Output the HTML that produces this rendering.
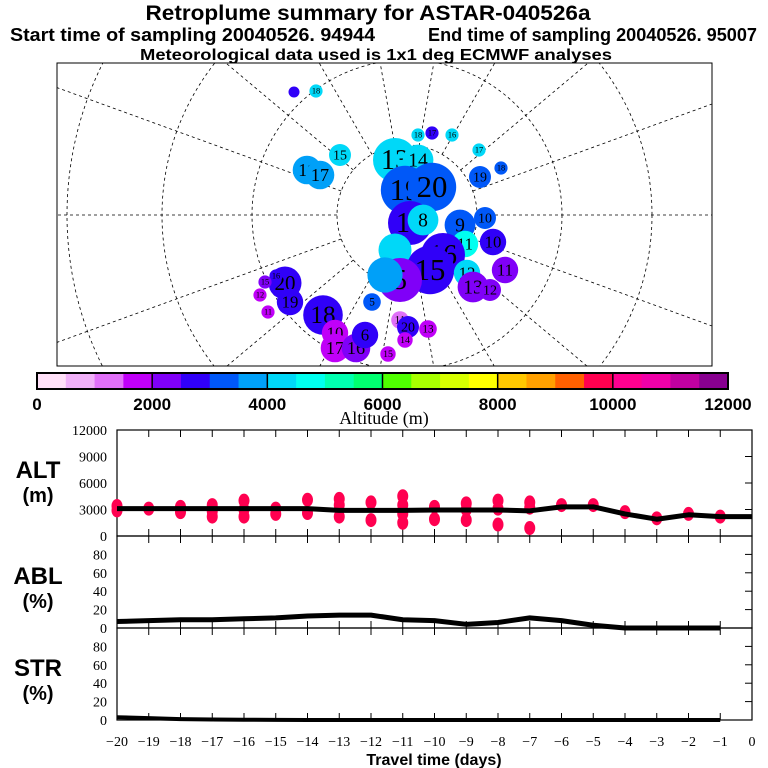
<!DOCTYPE html>
<html><head><meta charset="utf-8">
<style>
body{margin:0;background:#fff;}
svg{display:block;font-family:"Liberation Sans",sans-serif;}
.tk{font-family:"Liberation Serif",serif;font-size:14px;}
</style></head>
<body>
<svg id="c" width="768" height="768" viewBox="0 0 768 768">
<text x="368" y="20" text-anchor="middle" font-weight="bold" font-size="21" textLength="445" lengthAdjust="spacingAndGlyphs">Retroplume summary for ASTAR-040526a</text>
<text x="10" y="41" font-weight="bold" font-size="18" textLength="365" lengthAdjust="spacingAndGlyphs">Start time of sampling 20040526. 94944</text>
<text x="428" y="41" font-weight="bold" font-size="18" textLength="329" lengthAdjust="spacingAndGlyphs">End time of sampling 20040526. 95007</text>
<text x="376" y="60" text-anchor="middle" font-weight="bold" font-size="16" textLength="472" lengthAdjust="spacingAndGlyphs">Meteorological data used is 1x1 deg ECMWF analyses</text>
<g id="map"></g>
<g id="cbar"></g>
<g id="panels"></g>
</svg>
<script>
// ---- data ----
const days = [-20,-19,-18,-17,-16,-15,-14,-13,-12,-11,-10,-9,-8,-7,-6,-5,-4,-3,-2,-1,0];
const altLine = [3100,3100,3100,3100,3100,3100,3100,2900,2900,2900,2950,2950,2950,2850,3300,3300,2500,1900,2400,2200,2200];
const ablLine = [7,8,9,9,10,11,13,14,14,9,8,4,6,11,8,3,0,0,0,0];
const strLine = [3,2,1,0.5,0.3,0.2,0,0,0,0,0,0,0,0,0,0,0,0,0,0];
const dotDays = [-20,-20,-19,-18,-18,-17,-17,-17,-16,-16,-16,-15,-15,-14,-14,-13,-13,-13,-12,-12,-11,-11,-11,-11,-10,-10,-9,-9,-9,-8,-8,-8,-7,-7,-7,-6,-5,-4,-3,-2,-1];
const dotAlts = [3400,2900,3100,3300,2700,3500,2800,2200,4000,3000,2200,3100,2500,4100,2600,4200,3500,2200,3800,1800,4500,3500,2500,1500,3300,1900,3700,3000,1800,4000,3100,1300,3800,3200,900,3500,3500,2700,2000,2500,2200];
const ablTicks=[0,20,40,60,80];
const altTicks=[0,3000,6000,9000,12000];
const cbColors=["#ffe0f8","#f0b0f8","#e070f8","#c000f8","#8000f8","#3000f8","#0058f8","#00a0f8","#00d8f8","#00fff0","#00ffb0","#00ff70","#50ff00","#a8ff00","#d8ff00","#ffff00","#ffc800","#ffa000","#ff6000","#ff0050","#ff0090","#f000a8","#c000a0","#880090"];
const cbTicks=[0,2000,4000,6000,8000,10000,12000];
const plumeX=[294,316,432,418,452,479,501,340,307,320,395,418,405,432,480,410,423,460,485,465,493,443,430,467,473,490,505,395,400,385,372,323,335,335,356,365,400,408,428,405,388,285,290,276,265,260,268];
const plumeY=[92,91,133,135,135,150,168,155,170,175,160,160,190,187,177,223,220,225,218,244,242,255,270,273,287,290,270,250,280,275,302,315,333,348,348,335,320,327,329,340,354,283,302,276,282,295,312];
const plumeR=[5,6,6,6,6,6,6,10,13,13,20,14,22,22,10,20,14,14,10,12,12,20,22,12,14,10,12,15,20,16,8,18,12,13,13,12,8,10,8,7,7,15,12,6,6,6,6];
const plumeAlt=[2700,4200,2900,4300,4300,4300,3200,4300,3800,3800,4100,4100,3300,3300,3300,2700,4300,3300,3300,4500,2700,2700,2600,4100,2000,2000,2000,4000,2100,3800,3300,2600,1900,1900,2000,2500,1400,2700,1800,1800,1800,2600,2600,2600,2400,1900,1900];
const plumeLbl=["","18","17","18","16","17","18","15","11","17","13","14","19","20","19","18","8","9","10","11","10","16","15","12","13","12","11","","5","","5","18","10","17","16","6","11","20","13","14","15","20","19","16","15","12","11"];

const NS="http://www.w3.org/2000/svg";
function mk(p,t,a){const e=document.createElementNS(NS,t);for(const k in a)e.setAttribute(k,a[k]);p.appendChild(e);return e;}

// ---- map ----
const map=document.getElementById('map');
const defs=mk(map,'defs',{});
const cp=mk(defs,'clipPath',{id:'mc'});mk(cp,'rect',{x:57,y:63,width:655,height:303});
const gg=mk(map,'g',{'clip-path':'url(#mc)'});
const px=407,py=215;
[70,155,245,340].forEach(r=>{const c=mk(gg,'circle',{cx:px,cy:py,r:r,fill:'none',stroke:'#000','stroke-width':0.8,'stroke-dasharray':'3,3'});
});
for(let a=0;a<360;a+=20){const rd=a*Math.PI/180;const l=mk(gg,'line',{x1:px+70*Math.cos(rd),y1:py+70*Math.sin(rd),x2:px+500*Math.cos(rd),y2:py+500*Math.sin(rd),stroke:'#000','stroke-width':0.8,'stroke-dasharray':'3,3'});
}
function altColor(v){return cbColors[Math.max(0,Math.min(23,Math.floor(v/500)))];}
for(let i=0;i<plumeX.length;i++){
 const c=mk(gg,'circle',{cx:plumeX[i],cy:plumeY[i],r:plumeR[i]*1.1,fill:altColor(plumeAlt[i])});
 
 if(plumeLbl[i]){const t=mk(gg,'text',{x:plumeX[i],y:plumeY[i]+plumeR[i]*0.45,'text-anchor':'middle','font-family':'Liberation Serif,serif','font-size':Math.max(8,plumeR[i]*1.4)});t.textContent=plumeLbl[i];
 }
}
const mb=mk(map,'rect',{x:57,y:63,width:655,height:303,fill:'none',stroke:'#000','stroke-width':1});


// ---- colorbar ----
const cb=document.getElementById('cbar');
const cbx0=37,cbx1=728,cby=373,cbh=16,sw=(cbx1-cbx0)/24;
cbColors.forEach((c,i)=>{const r=mk(cb,'rect',{x:cbx0+i*sw,y:cby,width:sw+0.5,height:cbh,fill:c});
});
mk(cb,'rect',{x:cbx0,y:cby,width:cbx1-cbx0,height:cbh,fill:'none',stroke:'#000','stroke-width':2});
cbTicks.forEach(v=>{const x=cbx0+v/12000*(cbx1-cbx0);mk(cb,'line',{x1:x,y1:cby,x2:x,y2:cby+cbh,stroke:'#000','stroke-width':1.5});
const t=mk(cb,'text',{x:x,y:410,'text-anchor':'middle','font-weight':'bold','font-size':17});t.textContent=v;
});
const at=mk(cb,'text',{x:384,y:424,'text-anchor':'middle','font-family':'Liberation Serif,serif','font-size':18});at.textContent='Altitude (m)';


// ---- panels ----
const P=document.getElementById('panels');
const X0=117,X1=752;
const xs=d=>X0+(d+20)/20*(X1-X0);
const altY=v=>536-v/12000*106;
const ablY=v=>628-v/100*92;
const strY=v=>720-v/100*92;
[[430,536],[536,628],[628,720]].forEach(([a,b],k)=>{
 const r=mk(P,'rect',{x:X0,y:a,width:X1-X0,height:b-a,fill:'none',stroke:'#000','stroke-width':1.2});
 
 days.forEach(d=>{mk(P,'line',{x1:xs(d),y1:a,x2:xs(d),y2:a+7,stroke:'#000'});mk(P,'line',{x1:xs(d),y1:b,x2:xs(d),y2:b-7,stroke:'#000'});});
});
altTicks.forEach(v=>{const y=altY(v);mk(P,'line',{x1:X1-7,y1:y,x2:X1,y2:y,stroke:'#000'});
const t=mk(P,'text',{x:107,y:y+5,'text-anchor':'end',class:'tk'});t.textContent=v;
});
ablTicks.forEach(v=>{[[ablY,'abl-tick-label'],[strY,'str-tick-label']].forEach(([f,n])=>{const y=f(v);mk(P,'line',{x1:X1-7,y1:y,x2:X1,y2:y,stroke:'#000'});
const t=mk(P,'text',{x:107,y:y+5,'text-anchor':'end',class:'tk'});t.textContent=v;
});});
days.forEach(d=>{const t=mk(P,'text',{x:xs(d),y:746,'text-anchor':'middle',class:'tk','font-size':15});t.textContent=d===0?'0':'\u2212'+(-d);
});
const xt=mk(P,'text',{x:434,y:765,'text-anchor':'middle','font-weight':'bold','font-size':16});xt.textContent='Travel time (days)';

[['ALT','(m)',478,'alt-axis-title'],['ABL','(%)',584,'abl-axis-title'],['STR','(%)',676,'str-axis-title']].forEach(([a,b,y,n])=>{
 const t=mk(P,'text',{x:38,y:y,'text-anchor':'middle','font-weight':'bold','font-size':24});t.textContent=a;
 
 const u=mk(P,'text',{x:38,y:y+24,'text-anchor':'middle','font-weight':'bold','font-size':20});u.textContent=b;
 });
// dots
for(let i=0;i<dotDays.length;i++){const c=mk(P,'ellipse',{cx:xs(dotDays[i]),cy:altY(dotAlts[i]),rx:5.5,ry:7,fill:'#ff0050'});
}
function line(vals,f,n,w){const pts=vals.map((v,i)=>xs(days[i])+','+f(v)).join(' ');
const l=mk(P,'polyline',{points:pts,fill:'none',stroke:'#000','stroke-width':w,'stroke-linejoin':'round'});
}
line(altLine,altY,'alt-mean-line',5);
line(ablLine,ablY,'abl-line',5);
line(strLine,strY,'str-line',4);
</script>
</body></html>
